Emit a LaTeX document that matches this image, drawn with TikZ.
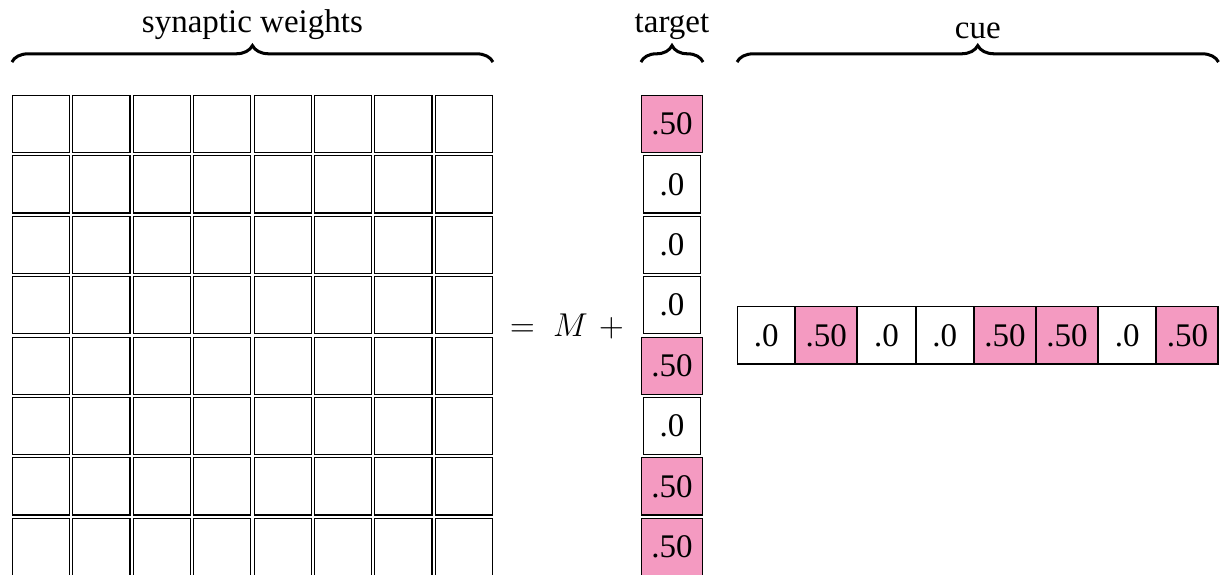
\documentclass[tikz,border=0pt]{standalone}
\usepackage{fontspec}
\setmainfont{Liberation Serif}
\usetikzlibrary{positioning,decorations.pathreplacing}
\definecolor{cuepink}{RGB}{244,154,193}
\begin{document}
\begin{tikzpicture}[font=\fontsize{12}{14}\selectfont,
  cell/.style={draw,minimum size=0.73cm,inner sep=3.6pt},
  on/.style={cell,fill=cuepink},
  brace/.style={decorate,decoration={brace,amplitude=6pt},line width=1.1pt}]
\useasboundingbox (0,0) rectangle (15.617,-7.336);
\clip (0,0) rectangle (15.617,-7.336);
\foreach \i in {1,...,8}
  \foreach \j in {1,...,8}
  {
    \node[cell] (w-\j-\i) at ({0.524+0.772*(\i-1)},{-1.585-0.772*(\j-1)}) {};
  }
\foreach \j/\v/\s in {1/.50/on,2/.0/cell,3/.0/cell,4/.0/cell,5/.50/on,6/.0/cell,7/.50/on,8/.50/on}
{
    \node[\s] (t-\j) at (8.588,{-1.585-0.772*(\j-1)}) {\v};
}
\node[anchor=base] (eq) at (7.245,-4.294) {$=\;M\mskip6mu+$};

\node[cell,anchor=west] (c-1) at (9.419,-4.287) {.0};
\foreach \k/\v/\s [count=\p] in {2/.50/on,3/.0/cell,4/.0/cell,5/.50/on,6/.50/on,7/.0/cell,8/.50/on}
{
    \node[\s,right=0pt of c-\p] (c-\k) {\v};
}

\coordinate (top) at ([yshift=0.42cm]w-1-1.north);
\draw[brace] (w-1-1.west |- top) -- node[above=4.4pt]{synaptic weights} (w-1-8.east |- top);
\draw[brace] (t-1.west |- top) -- node[above=4.4pt]{target} (t-1.east |- top);
\draw[brace] (c-1.west |- top) -- node[above=4.4pt]{cue} (c-8.east |- top);
\end{tikzpicture}
\end{document}
